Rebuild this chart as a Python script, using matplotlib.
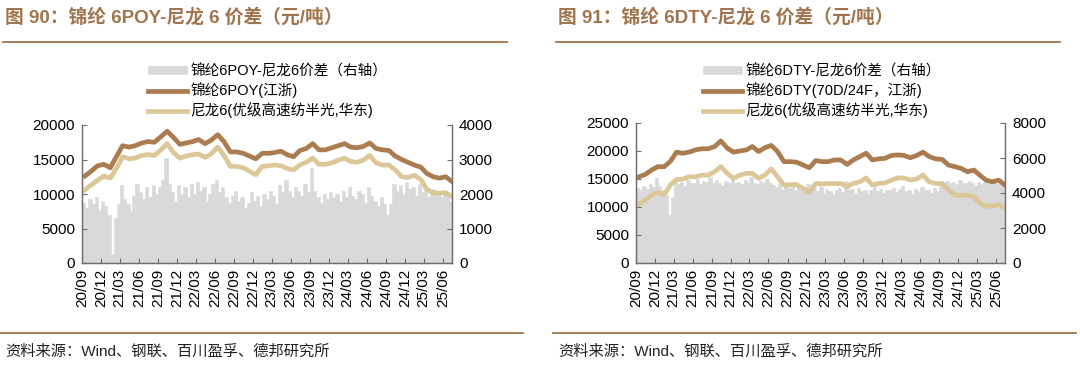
import matplotlib

matplotlib.use("Agg")
import matplotlib.pyplot as plt
import matplotlib.dates as mdates
from matplotlib.font_manager import FontProperties
from matplotlib.lines import Line2D
import pandas as pd

BROWN = "#aa7c50"
SAND = "#dcc798"
GREY = "#d9d9d9"
TITLE_C = "#a0744c"
SPINE_C = "#6e6e6e"

LAT = ["Liberation Sans", "Noto Sans CJK SC"]
plt.rcParams["font.family"] = LAT

# ---- data: monthly line values Sep-2020 .. Jul-2025 (yuan/ton) ----
poy = [12600, 13300, 14100, 14300,
       13800, 15500, 17000, 16800, 17000, 17400, 17600, 17500, 18300, 19100, 18200, 17200,
       17400, 17600, 17900, 17300, 17800, 18600, 17600, 16100, 16100, 15900, 15500, 15100,
       15900, 15900, 16000, 16200, 15700, 15400, 16300, 16600, 17300, 16400, 16400, 16700,
       17000, 17300, 16800, 16700, 16900, 17400, 16600, 16400, 16300, 15500, 15000, 14600,
       14200, 13900, 13000, 12500, 12300, 12500, 11800]
pa6_l = [10600, 11300, 12000, 12600,
         12300, 13800, 15400, 15100, 15200, 15600, 15700, 15600, 16400, 17300, 16000, 15200,
         15500, 15700, 15800, 15300, 15800, 16800, 15600, 14000, 14000, 13800, 13300, 12800,
         14000, 14100, 14200, 14100, 13700, 13500, 14200, 14600, 15200, 14300, 14300, 14500,
         14900, 15200, 14700, 14600, 14900, 15600, 14500, 14200, 14200, 13500, 12500, 12400,
         12700, 12100, 10700, 10200, 10100, 10200, 9600]
dty = [15400, 15800, 16600, 17200,
       17200, 18200, 19800, 19600, 19800, 20200, 20400, 20400, 20800, 21800, 20500, 19800,
       20000, 20200, 20800, 19900, 20600, 21000, 19900, 18100, 18100, 18000, 17500, 17000,
       18300, 18100, 18100, 18400, 18400, 17600, 18400, 19000, 19600, 18400, 18600, 18700,
       19200, 19300, 19200, 18800, 19200, 19800, 19000, 18600, 18500, 17500, 17200, 16900,
       16300, 16600, 15700, 14800, 14500, 14800, 13900]
pa6_r = [10500, 11200, 12100, 12600,
         12200, 14000, 14900, 15000, 15400, 15400, 15700, 15700, 16300, 17200, 16000, 15100,
         15700, 16000, 16000, 15100, 15700, 16800, 15400, 13900, 14000, 14000, 13300, 12600,
         14200, 14100, 14200, 14200, 14200, 13600, 14200, 14500, 15200, 13900, 14200, 14300,
         14800, 15200, 15200, 14800, 15000, 15700, 14500, 14200, 14200, 13000, 12100, 12100,
         12100, 11900, 10700, 10100, 10200, 10400, 9800]

# ---- data: half-monthly spreads (right axis) ----
spread_poy = [1750, 1600, 1850, 1700, 1900, 1550, 1800, 1650,
              1400, 250, 1300, 1700, 2250, 1850, 1700, 1500, 1950, 2300, 2050, 1850,
              2200, 1900, 2250, 2000, 2200, 2400, 3050, 2300, 2050, 1800, 2250, 2000,
              2200, 1900, 2300, 2000, 2350, 2100, 2200, 1800, 2000, 2300, 2400, 2050,
              2200, 1900, 1750, 1950, 2100, 1800, 1900, 1600, 1750, 2050, 1800, 1950,
              1650, 2000, 1850, 2100, 1950, 1700, 2250, 2050, 2400, 2100, 1900, 2200,
              2100, 1950, 2300, 2050, 2750, 2100, 1900, 1750, 2000, 1850, 2050, 1900,
              2000, 1800, 2100, 1900, 2200, 1950, 1850, 2100, 2000, 1750, 2200, 1950,
              1800, 1650, 1900, 1700, 1400, 1700, 2300, 2100, 2250, 2000, 2350, 2150,
              2200, 1950, 2300, 2050, 2100, 1900, 2150, 2000, 2050, 1900, 2100, 1950, 1800, 2000]
spread_dty = [4300, 4150, 4400, 4250, 4500, 4350, 4850, 4400,
              4200, 3900, 2750, 3800, 4700, 4500, 4650, 4400, 4750, 4550, 4600, 4800,
              4500, 4700, 4650, 4900, 4550, 4750, 4600, 4450, 4700, 4550, 4800, 4600,
              4650, 4500, 4750, 4550, 4900, 4600, 4500, 4700, 4550, 4800, 4600, 4450,
              4350, 4550, 4250, 4450, 4300, 4500, 4200, 4400, 4150, 4350, 4500, 4250,
              4300, 4100, 4350, 4000, 4250, 4100, 3950, 4200, 4300, 4050, 4700, 4150,
              4250, 4000, 4300, 4100, 4200, 3950, 4150, 4350, 4100, 4250, 4000, 4200,
              4150, 4300, 4050, 4250, 4400, 4100, 4200, 3950, 4250, 4100, 4350, 4150,
              4200, 4000, 4300, 4100, 4600, 4450, 4700, 4550, 4650, 4500, 4750, 4600,
              4550, 4700, 4600, 4450, 4650, 4500, 4700, 4550, 4600, 4750, 4500, 4650, 4450, 4600]

months = pd.date_range("2020-09-01", periods=59, freq="MS")
month_dates = months + pd.Timedelta(days=14)
half_dates = []
for m in months:
    half_dates += [m, m + pd.Timedelta(days=15)]

SOURCE = "资料来源：Wind、钢联、百川盈孚、德邦研究所"

W, H = 1080, 383
fig = plt.figure(figsize=(W / 100, H / 100), dpi=100)


def fx(x):
    return x / W


def fy(y):
    return 1 - y / H


def panel(x0, x1, ytop, tx, title, labels, l1, l2, spread, lmax, lstep, rmax, rstep, legx):
    ax = fig.add_axes([fx(x0), fy(263), fx(x1 - x0), (263 - ytop) / H])
    ax2 = ax.twinx()
    ax.set_zorder(ax2.get_zorder() + 1)
    ax.patch.set_visible(False)

    bars = ax2.bar(half_dates, spread, width=16.5, align="edge", color=GREY,
                   edgecolor=GREY, linewidth=0.4)
    p1, = ax.plot(month_dates, l1, color=BROWN, lw=3.4)
    p2, = ax.plot(month_dates, l2, color=SAND, lw=3.4)

    ax.set_xlim(pd.Timestamp("2020-09-01"), pd.Timestamp("2025-07-15"))
    ax.set_ylim(0, lmax)
    ax2.set_ylim(0, rmax)
    ax.set_yticks(range(0, lmax + 1, lstep))
    ax2.set_yticks(range(0, rmax + 1, rstep))
    ax.xaxis.set_major_locator(mdates.MonthLocator(bymonth=[3, 6, 9, 12]))
    ax.xaxis.set_major_formatter(mdates.DateFormatter("%y/%m"))
    for a in (ax, ax2):
        a.spines["top"].set_visible(False)
        for s in ("left", "right", "bottom"):
            a.spines[s].set_color(SPINE_C)
            a.spines[s].set_linewidth(0.9)
        a.tick_params(direction="in", length=3.5, width=0.8, color=SPINE_C,
                      labelsize=11, pad=5)
    ax.tick_params(axis="x", rotation=90, pad=4)

    fig.legend([bars, p1, p2], labels, loc="upper left",
               bbox_to_anchor=(fx(legx), fy(64)), frameon=False,
               prop=FontProperties(family=LAT, size=10.5),
               handlelength=2.7, handleheight=0.45, handletextpad=0.2,
               labelspacing=0.28, borderpad=0, borderaxespad=0)

    fig.text(fx(tx), fy(17), title, fontsize=13.5, fontweight="bold",
             color=TITLE_C, va="center", ha="left", family=LAT)
    fig.add_artist(Line2D([fx(tx - 2), fx(tx + 502)], [fy(42), fy(42)],
                          color=TITLE_C, lw=1.3))
    fig.add_artist(Line2D([fx(tx - 5), fx(tx + 518)], [fy(333), fy(333)],
                          color=TITLE_C, lw=1.3))
    fig.text(fx(tx), fy(352), SOURCE, fontsize=11, color="#222222",
             va="center", ha="left", family=LAT)


panel(82, 452, 125, 5, "图 90：锦纶 6POY-尼龙 6 价差（元/吨）",
      ["锦纶6POY-尼龙6价差（右轴）", "锦纶6POY(江浙)", "尼龙6(优级高速纺半光,华东)"],
      poy, pa6_l, spread_poy, 20000, 5000, 4000, 1000, 148)
panel(636, 1005, 123, 558, "图 91：锦纶 6DTY-尼龙 6 价差（元/吨）",
      ["锦纶6DTY-尼龙6价差（右轴）", "锦纶6DTY(70D/24F，江浙)", "尼龙6(优级高速纺半光,华东)"],
      dty, pa6_r, spread_dty, 25000, 5000, 8000, 2000, 703)

fig.savefig("out.png", dpi=100)
